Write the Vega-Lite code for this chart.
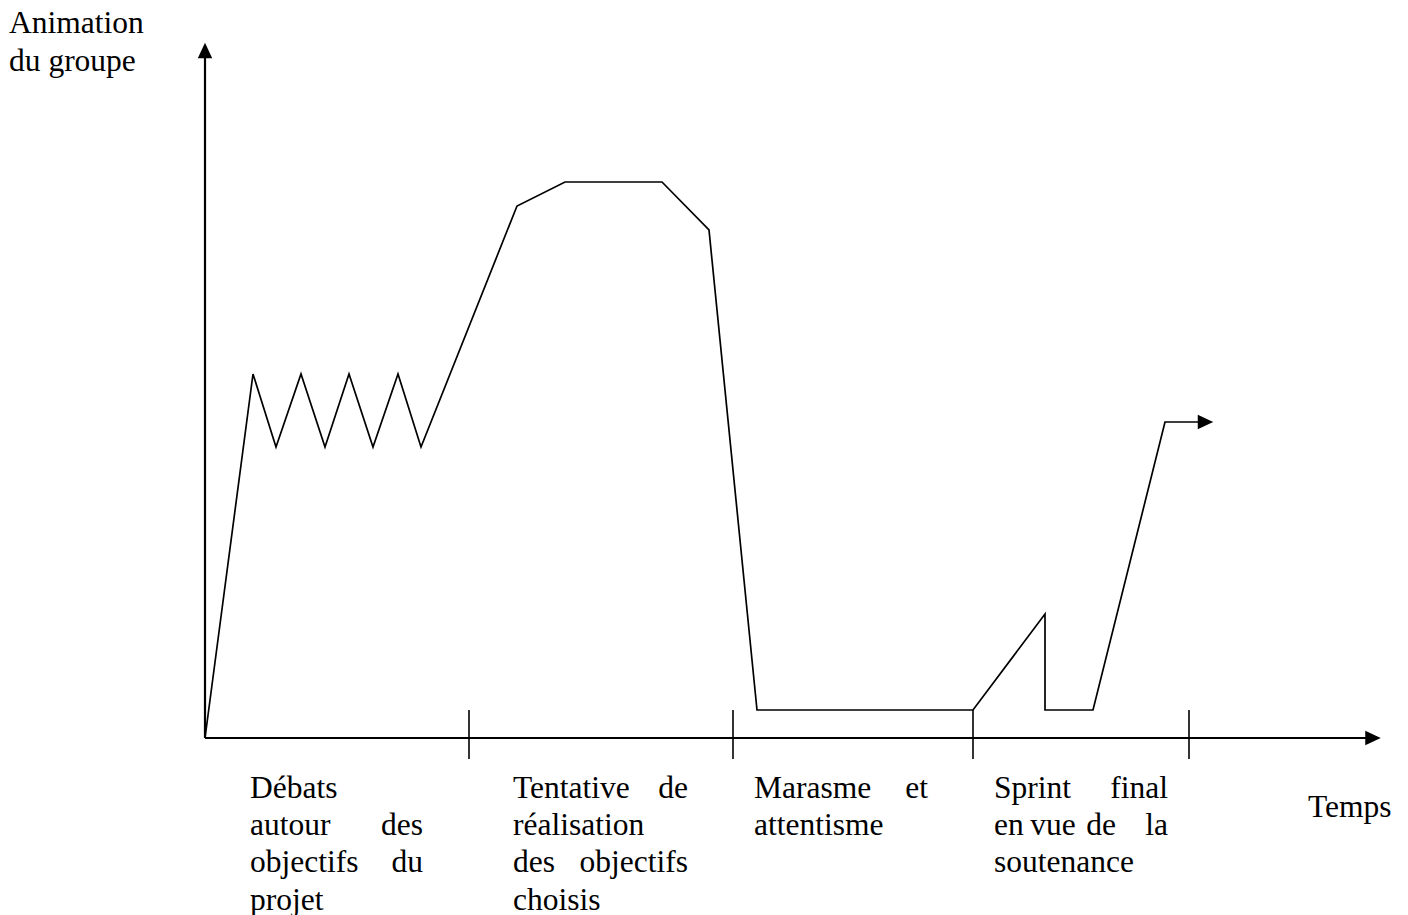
{
  "$schema": "https://vega.github.io/schema/vega-lite/v6.json",
  "width": 1408,
  "height": 915,
  "padding": 0,
  "autosize": {"type": "none"},
  "background": "white",
  "config": {"view": {"stroke": null}},
  "datasets": {
    "curve": [
      {"i": 0, "x": 0, "y": 0},
      {"i": 1, "x": 48, "y": 364},
      {"i": 2, "x": 71, "y": 291},
      {"i": 3, "x": 96, "y": 364},
      {"i": 4, "x": 120, "y": 291},
      {"i": 5, "x": 144, "y": 364},
      {"i": 6, "x": 168, "y": 291},
      {"i": 7, "x": 193, "y": 364},
      {"i": 8, "x": 216, "y": 291},
      {"i": 9, "x": 312, "y": 532},
      {"i": 10, "x": 360, "y": 556},
      {"i": 11, "x": 457, "y": 556},
      {"i": 12, "x": 504, "y": 508},
      {"i": 13, "x": 552, "y": 28},
      {"i": 14, "x": 768, "y": 28},
      {"i": 15, "x": 840, "y": 124},
      {"i": 16, "x": 840, "y": 28},
      {"i": 17, "x": 888, "y": 28},
      {"i": 18, "x": 960, "y": 316},
      {"i": 19, "x": 998, "y": 316}
    ],
    "axes": [
      {"x": 0, "y": 0, "x2": 0, "y2": 690},
      {"x": 0, "y": 0, "x2": 1166, "y2": 0}
    ],
    "ticks": [
      {"x": 264, "y": 28, "x2": 264, "y2": -21},
      {"x": 528, "y": 28, "x2": 528, "y2": -21},
      {"x": 768, "y": 28, "x2": 768, "y2": -21},
      {"x": 984, "y": 28, "x2": 984, "y2": -21}
    ],
    "arrows": [
      {"dir": "up", "x": 0, "y": 687.5},
      {"dir": "right", "x": 1168, "y": 0},
      {"dir": "right", "x": 1000.5, "y": 316}
    ],
    "labels": [
      {"t": "Animation", "x": -196, "y": 705, "a": "start"},
      {"t": "du groupe", "x": -196, "y": 667, "a": "start"},
      {"t": "Débats", "x": 45, "y": -60, "a": "start"},
      {"t": "autour", "x": 45, "y": -97, "a": "start"},
      {"t": "des", "x": 218, "y": -97, "a": "end"},
      {"t": "objectifs", "x": 45, "y": -134, "a": "start"},
      {"t": "du", "x": 218, "y": -134, "a": "end"},
      {"t": "projet", "x": 45, "y": -172, "a": "start"},
      {"t": "Tentative", "x": 308, "y": -60, "a": "start"},
      {"t": "de", "x": 483, "y": -60, "a": "end"},
      {"t": "réalisation", "x": 308, "y": -97, "a": "start"},
      {"t": "des", "x": 308, "y": -134, "a": "start"},
      {"t": "objectifs", "x": 483, "y": -134, "a": "end"},
      {"t": "choisis", "x": 308, "y": -172, "a": "start"},
      {"t": "Marasme", "x": 549, "y": -60, "a": "start"},
      {"t": "et", "x": 723, "y": -60, "a": "end"},
      {"t": "attentisme", "x": 549, "y": -97, "a": "start"},
      {"t": "Sprint", "x": 789, "y": -60, "a": "start"},
      {"t": "final", "x": 963, "y": -60, "a": "end"},
      {"t": "en", "x": 789, "y": -97, "a": "start"},
      {"t": "vue", "x": 848, "y": -97, "a": "middle"},
      {"t": "de", "x": 896, "y": -97, "a": "middle"},
      {"t": "la", "x": 963, "y": -97, "a": "end"},
      {"t": "soutenance", "x": 789, "y": -134, "a": "start"},
      {"t": "Temps", "x": 1103, "y": -79, "a": "start"}
    ]
  },
  "encoding": {
    "x": {"field": "x", "type": "quantitative", "scale": {"domain": [-205, 1203], "nice": false, "zero": false}, "axis": null},
    "y": {"field": "y", "type": "quantitative", "scale": {"domain": [-177, 738], "nice": false, "zero": false}, "axis": null}
  },
  "layer": [
    {
      "data": {"name": "axes"},
      "mark": {"type": "rule", "color": "black", "strokeWidth": 2.2},
      "encoding": {"x2": {"field": "x2"}, "y2": {"field": "y2"}}
    },
    {
      "data": {"name": "ticks"},
      "mark": {"type": "rule", "color": "black", "strokeWidth": 1.6},
      "encoding": {"x2": {"field": "x2"}, "y2": {"field": "y2"}}
    },
    {
      "data": {"name": "curve"},
      "mark": {"type": "line", "color": "black", "strokeWidth": 1.7, "strokeJoin": "miter"},
      "encoding": {"order": {"field": "i", "type": "quantitative"}}
    },
    {
      "data": {"name": "arrows"},
      "mark": {"type": "point", "filled": true, "color": "black", "opacity": 1, "size": 240, "strokeWidth": 0},
      "encoding": {
        "shape": {"field": "dir", "type": "nominal", "legend": null,
          "scale": {"domain": ["up", "right"], "range": ["M0,-1L0.93,1L-0.93,1Z", "M1,0L-1,0.93L-1,-0.93Z"]}}
      }
    },
    {
      "data": {"name": "labels"},
      "transform": [{"filter": "datum.a === 'start'"}],
      "mark": {"type": "text", "align": "left", "baseline": "alphabetic", "font": "Liberation Serif", "fontSize": 31.5, "color": "black"},
      "encoding": {"text": {"field": "t"}}
    },
    {
      "data": {"name": "labels"},
      "transform": [{"filter": "datum.a === 'end'"}],
      "mark": {"type": "text", "align": "right", "baseline": "alphabetic", "font": "Liberation Serif", "fontSize": 31.5, "color": "black"},
      "encoding": {"text": {"field": "t"}}
    },
    {
      "data": {"name": "labels"},
      "transform": [{"filter": "datum.a === 'middle'"}],
      "mark": {"type": "text", "align": "center", "baseline": "alphabetic", "font": "Liberation Serif", "fontSize": 31.5, "color": "black"},
      "encoding": {"text": {"field": "t"}}
    }
  ]
}
